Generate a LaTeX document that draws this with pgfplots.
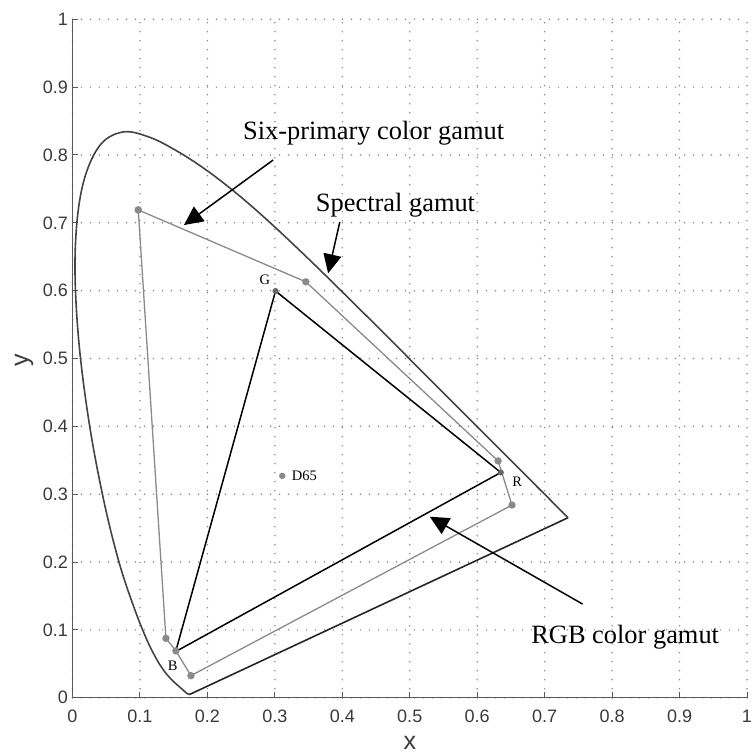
\documentclass[border=0pt]{standalone}
\usepackage{fontspec}
\setmainfont{Liberation Serif}
\newfontfamily\arialfont{Liberation Sans}
\usepackage{pgfplots}
\pgfplotsset{compat=1.18}
\usetikzlibrary{arrows.meta}
\definecolor{locus}{HTML}{444444}
\definecolor{sixp}{HTML}{8A8A8A}
\definecolor{axgray}{HTML}{5A5A5A}
\definecolor{ticktext}{HTML}{3A3A3A}
\begin{document}
\begin{tikzpicture}[x=1pt,y=1pt]
\useasboundingbox (-72.5,-58.3) rectangle (681.5,697.7);
\begin{axis}[
  scale only axis, width=674.5pt, height=678.4pt,
  at={(0,0)}, anchor=south west,
  xmin=0, xmax=1, ymin=0, ymax=1,
  xtick={0,0.1,0.2,0.3,0.4,0.5,0.6,0.7,0.8,0.9,1},
  ytick={0,0.1,0.2,0.3,0.4,0.5,0.6,0.7,0.8,0.9,1},
  xticklabels={0,0.1,0.2,0.3,0.4,0.5,0.6,0.7,0.8,0.9,1},
  yticklabels={0,0.1,0.2,0.3,0.4,0.5,0.6,0.7,0.8,0.9,1},
  axis x line=bottom, axis y line=left,
  axis line style={-, draw=axgray, line width=1.3pt},
  tick align=inside, major tick length=6pt,
  tick style={draw=axgray, line width=1pt},
  grid=major,
  major grid style={draw=black!45, line width=1.7pt, dash pattern=on 0pt off 9pt, line cap=round},
  /pgf/number format/assume math mode=true,
  tick label style={font=\arialfont\fontsize{18}{18}\selectfont, text=ticktext},
  xticklabel style={anchor=north, inner sep=0pt, yshift=-12pt},
  yticklabel style={anchor=east, inner sep=0pt, xshift=-4.5pt},
  xlabel={x}, ylabel={y},
  label style={font=\arialfont\fontsize{25}{25}\selectfont, text=ticktext},
  xlabel style={at={(axis description cs:0.5,-0.066)}, anchor=center, inner sep=0pt},
  ylabel style={at={(axis description cs:-0.0719,0.498)}, anchor=center, inner sep=0pt},
  clip=false,
]
% spectral locus (CIE 1931)
\addplot[draw=locus, line width=1.6pt, smooth, tension=0.6] coordinates {
(0.1741,0.0050)(0.1703,0.0058)
(0.1669,0.0086)(0.1611,0.0138)
(0.1510,0.0227)(0.1440,0.0297)(0.1355,0.0399)(0.1241,0.0578)(0.1096,0.0868)
(0.0913,0.1327)(0.0687,0.2007)(0.0454,0.2950)(0.0235,0.4127)(0.0082,0.5384)
(0.0039,0.6548)(0.0139,0.7502)(0.0389,0.8120)(0.0743,0.8338)(0.1142,0.8262)
(0.1547,0.8059)(0.1929,0.7816)(0.2296,0.7543)(0.2658,0.7243)(0.3016,0.6923)
(0.3373,0.6589)(0.3731,0.6245)(0.4087,0.5896)(0.4441,0.5547)(0.4788,0.5202)
(0.5125,0.4866)(0.5448,0.4544)(0.5752,0.4242)(0.6029,0.3965)(0.6270,0.3725)
(0.6482,0.3514)(0.6658,0.3340)(0.6801,0.3197)(0.6915,0.3083)(0.7006,0.2993)
(0.7079,0.2920)(0.7140,0.2859)(0.7190,0.2809)(0.7260,0.2740)(0.7300,0.2700)
(0.7347,0.2653)};
% purple line
\addplot[draw=black!85, line width=1.6pt] coordinates {(0.7347,0.2653)(0.1741,0.0050)};
% six-primary gamut
\addplot[draw=sixp, line width=1.3pt, mark=*, mark size=3pt, mark options={fill=sixp, draw=sixp}] coordinates {
(0.0975,0.719)(0.346,0.613)(0.631,0.349)(0.6516,0.284)(0.1756,0.0325)(0.1533,0.069)(0.1385,0.0875)(0.0975,0.719)};
% RGB gamut
\addplot[draw=black, line width=1.5pt] coordinates {(0.635,0.332)(0.301,0.5995)(0.153,0.068)(0.635,0.332)};
\addplot[only marks, mark=*, mark size=2.8pt, mark options={fill=black!60, draw=black!60}] coordinates {(0.301,0.5995)(0.635,0.332)};
% D65
\addplot[only marks, mark=*, mark size=3pt, mark options={fill=sixp, draw=sixp}] coordinates {(0.311,0.327)};
% small labels
\node[font=\fontsize{14.5}{15}\selectfont, inner sep=0pt] at (axis cs:0.2853,0.6155) {G};
\node[font=\fontsize{14.5}{15}\selectfont, inner sep=0pt] at (axis cs:0.1486,0.0467) {B};
\node[font=\fontsize{14.5}{15}\selectfont, inner sep=0pt] at (axis cs:0.6594,0.3184) {R};
\node[font=\fontsize{14.5}{15}\selectfont, inner sep=0pt, anchor=west] at (axis cs:0.325,0.327) {D65};
% annotations
\node[font=\fontsize{26.4}{30}\selectfont, inner sep=0pt, anchor=base west] at (axis cs:0.2526,0.8231) {Six-primary color gamut};
\node[font=\fontsize{26.4}{30}\selectfont, inner sep=0pt, anchor=base west] at (axis cs:0.3607,0.7164) {Spectral gamut};
\node[font=\fontsize{26.4}{30}\selectfont, inner sep=0pt, anchor=base west] at (axis cs:0.680,0.0802) {RGB color gamut};
\draw[line width=1.5pt, -{Triangle[length=19pt,width=18pt]}] (axis cs:0.2975,0.7926) -- (axis cs:0.1652,0.6967);
\draw[line width=1.5pt, -{Triangle[length=19pt,width=18pt]}] (axis cs:0.3963,0.7012) -- (axis cs:0.379,0.6256);
\draw[line width=1.5pt, -{Triangle[length=19pt,width=18pt]}] (axis cs:0.7563,0.138) -- (axis cs:0.5296,0.2668);
\end{axis}
\end{tikzpicture}
\end{document}
